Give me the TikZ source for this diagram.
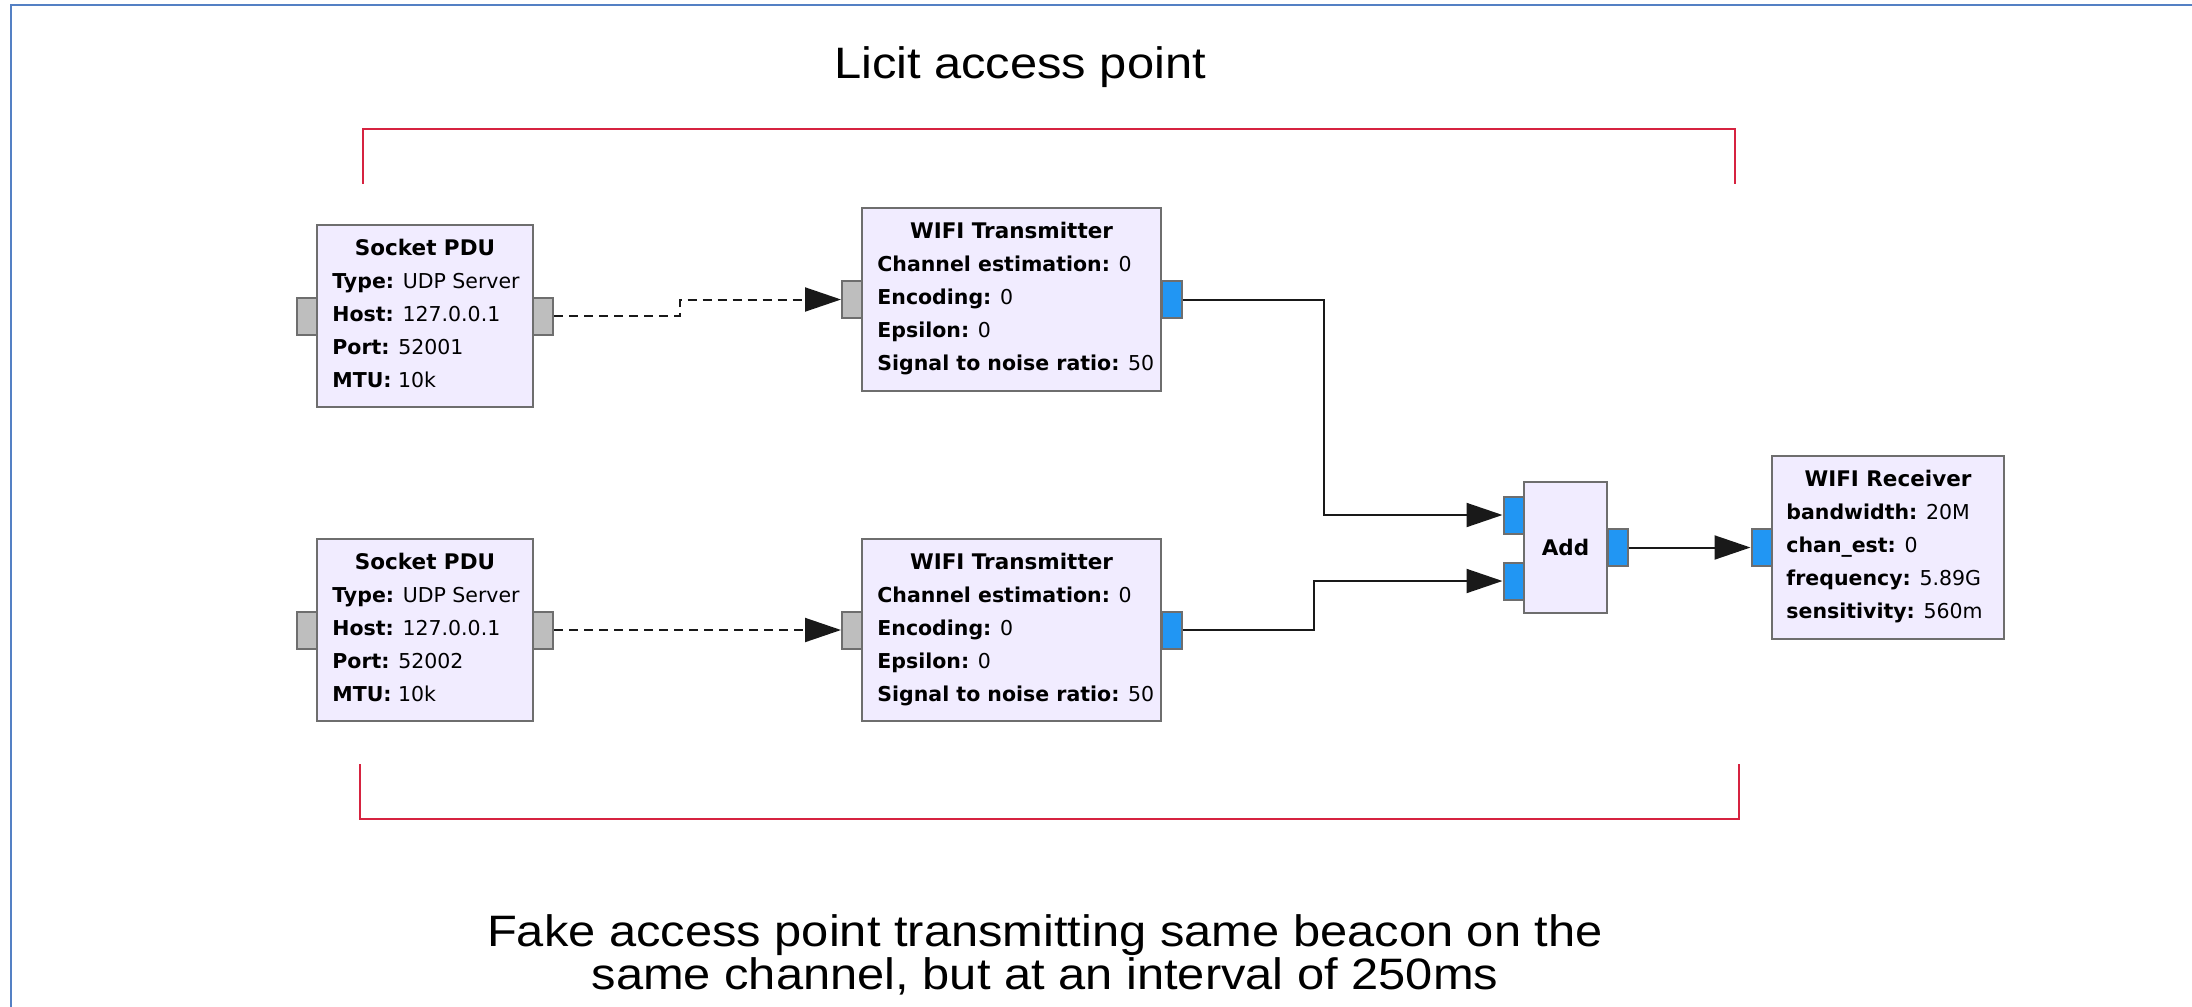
\documentclass[tikz,border=0pt]{standalone}
\usepackage{fontspec}
\usetikzlibrary{arrows.meta}
\newfontfamily\grcfont{DejaVu Sans}
\newfontfamily\slidefont{Liberation Sans}
\definecolor{boxfill}{RGB}{241,236,255}
\definecolor{boxline}{RGB}{110,110,110}
\definecolor{portgray}{RGB}{190,190,190}
\definecolor{portblue}{RGB}{33,150,243}
\definecolor{redline}{RGB}{214,35,64}
\definecolor{bordercol}{RGB}{84,128,196}
\tikzset{
  blk/.style={draw=boxline, fill=boxfill, line width=1pt, inner sep=0pt},
  gport/.style={draw=boxline, fill=portgray, line width=1pt, minimum width=10pt, minimum height=18.5pt, inner sep=0pt},
  bport/.style={draw=boxline, fill=portblue, line width=1pt, minimum width=10pt, minimum height=18.5pt, inner sep=0pt},
  ttl/.style={font=\grcfont\bfseries\fontsize{10.75}{12}\selectfont, anchor=base, inner sep=0pt},
  prm/.style={font=\grcfont\fontsize{10.25}{12}\selectfont, anchor=base west, inner sep=0pt},
  sconn/.style={line width=1pt, draw=black!90, -{Triangle[length=18pt,width=12pt]}},
  dconn/.style={sconn, dash pattern=on 4.5pt off 3pt},
  bracket/.style={draw=redline, line width=1.3pt},
  slidetxt/.style={font=\slidefont\fontsize{22}{21.5}\selectfont, xscale=1.11, align=center, inner sep=0pt},
}
\begin{document}
\begin{tikzpicture}[x=0.5pt, y=-0.5pt]
\useasboundingbox (0,0) rectangle (2192,1007);
\draw[draw=bordercol, line width=1pt] (10.5,1007) -- (10.5,5) -- (2192,5);

% titles
\node[slidetxt] (t_licit) at (1020,67) {Licit access point};
\node[slidetxt] (t_fake) at (1045,955) {Fake access point transmitting same beacon on the\\same channel, but at an interval of 250ms};

% red brackets
\draw[bracket] (363,184) -- (363,129) -- (1735,129) -- (1735,184);
\draw[bracket] (360,764) -- (360,819) -- (1739,819) -- (1739,764);

% ports
\node[gport] (s1i) at (306.5,316) {};
\node[gport] (s1o) at (543,316) {};
\node[gport] (s2i) at (306.5,630) {};
\node[gport] (s2o) at (543,630) {};
\node[gport] (t1i) at (852,299.5) {};
\node[bport] (t1o) at (1171.5,299.5) {};
\node[gport] (t2i) at (852,630) {};
\node[bport] (t2o) at (1171.5,630) {};
\node[bport] (a1) at (1513.5,515) {};
\node[bport] (a2) at (1513.5,581) {};
\node[bport] (ao) at (1617.5,547.5) {};
\node[bport] (ri) at (1761.5,547.5) {};

% blocks
\node[blk, minimum width=108pt, minimum height=91pt] (s1) at (425,316) {};
\node[blk, minimum width=108pt, minimum height=91pt] (s2) at (425,630) {};
\node[blk, minimum width=149.5pt, minimum height=91.5pt] (t1) at (1011.5,299.5) {};
\node[blk, minimum width=149.5pt, minimum height=91pt] (t2) at (1011.5,630) {};
\node[blk, minimum width=41.5pt, minimum height=65.5pt] (add) at (1565.5,547.5) {};
\node[blk, minimum width=116pt, minimum height=91.5pt] (rx) at (1888,547.5) {};

% socket 1 text
\node[ttl] (s1t) at (425,255) {Socket PDU};
\node[prm] (s1a) at (332,288) {\textbf{Type:} UDP Server};
\node[prm] (s1b) at (332,321) {\textbf{Host:} 127.0.0.1};
\node[prm] (s1c) at (332,354) {\textbf{Port:} 52001};
\node[prm] (s1d) at (332,387) {\textbf{MTU:} 10k};
% socket 2 text
\node[ttl] (s2t) at (425,569) {Socket PDU};
\node[prm] (s2a) at (332,602) {\textbf{Type:} UDP Server};
\node[prm] (s2b) at (332,635) {\textbf{Host:} 127.0.0.1};
\node[prm] (s2c) at (332,668) {\textbf{Port:} 52002};
\node[prm] (s2d) at (332,701) {\textbf{MTU:} 10k};
% transmitter 1 text
\node[ttl] (t1t) at (1011.5,238) {WIFI Transmitter};
\node[prm] (t1a) at (877,271) {\textbf{Channel estimation:} 0};
\node[prm] (t1b) at (877,304) {\textbf{Encoding:} 0};
\node[prm] (t1c) at (877,337) {\textbf{Epsilon:} 0};
\node[prm] (t1d) at (877,370) {\textbf{Signal to noise ratio:} 50};
% transmitter 2 text
\node[ttl] (t2t) at (1011.5,569) {WIFI Transmitter};
\node[prm] (t2a) at (877,602) {\textbf{Channel estimation:} 0};
\node[prm] (t2b) at (877,635) {\textbf{Encoding:} 0};
\node[prm] (t2c) at (877,668) {\textbf{Epsilon:} 0};
\node[prm] (t2d) at (877,701) {\textbf{Signal to noise ratio:} 50};
% add
\node[ttl, anchor=center] (addt) at (1565.5,547.5) {Add};
% receiver
\node[ttl] (rxt) at (1888,486) {WIFI Receiver};
\node[prm] (rxa) at (1786,519) {\textbf{bandwidth:} 20M};
\node[prm] (rxb) at (1786,552) {\textbf{chan\_est:} 0};
\node[prm] (rxc) at (1786,585) {\textbf{frequency:} 5.89G};
\node[prm] (rxd) at (1786,618) {\textbf{sensitivity:} 560m};

% connectors
\draw[dconn] (s1o.east) -- ++(126,0) |- (t1i.west);
\draw[dconn] (s2o.east) -- (t2i.west);
\draw[sconn] (t1o.east) -- ++(141,0) |- (a1.west);
\draw[sconn] (t2o.east) -- ++(131,0) |- (a2.west);
\draw[sconn] (ao.east) -- (ri.west);
\end{tikzpicture}
\end{document}
